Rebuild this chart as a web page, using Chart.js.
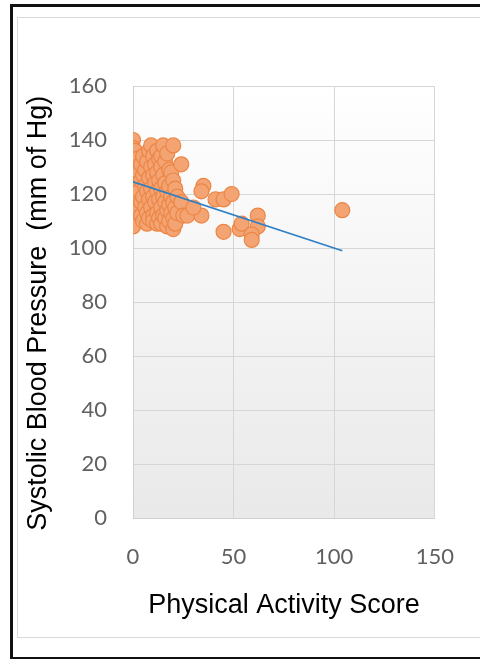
<!DOCTYPE html>
<html>
<head>
<meta charset="utf-8">
<script src="https://cdn.jsdelivr.net/npm/chart.js@4.4.1/dist/chart.umd.min.js"></script>
<style>
  html, body { margin: 0; padding: 0; background: #fff; }
  #wrap { position: relative; width: 480px; height: 659px; overflow: hidden; }
  #outer { position: absolute; left: 10px; top: 4px; width: 480px; height: 650px; border: 3px solid #111; border-right: none; }
  #inner { position: absolute; left: 17px; top: 17px; width: 470px; height: 619px; border: 1px solid #d9d9d9; border-right: none; }
  #chart { position: absolute; left: 0; top: 0; }
</style>
</head>
<body>
<div id="wrap">
  <div id="outer"></div>
  <div id="inner"></div>
  <canvas id="chart" width="480" height="659"></canvas>
</div>
<script>
  // physical activity score vs systolic pressure
  const activity = [
    0,0,0,0,0,0,0,0,0,0,
    1,1,1,1,1, 2,2,2, 3,3,3, 4,4,4,4, 5,5,5,5, 6,6,6,
    7,7,7,7, 8,8,8,8, 9,9,9,9, 10,10,10,10,10, 11,11,11,
    12,12,12,12,12, 13,13,13,13, 14,14,14,14,14, 15,15,15,15,
    16,16,16,16, 17,17,17,17, 18,18,18,18, 19,19,19,
    20,20,20,20,20, 21,21,21, 22,22, 24,24, 25,
    27,34,30, 35,34,41,45,49,45,53,54,62,62,59,59, 104
  ];
  const systolic = [
    140,137,134,131,128,125,122,119,116,108,
    136,130,126,120,117, 133,124,118, 128,121,114, 131,125,117,112, 134,127,119,110, 129,123,115,
    132,121,113,109, 136,126,118,111, 138,130,122,115, 134,127,119,112,110, 131,124,117,
    136,128,121,113,109, 133,125,118,111, 134,130,122,115,109, 138,127,119,112,
    132,124,117,111, 135,121,114,108, 129,123,116,110, 128,119,113,
    138,125,117,111,107, 122,115,109, 119,113, 131,117, 112,
    112,112,115, 123,121,118,118,120,106,107,109,112,108,105,103, 114
  ];
  // linear trendline ends
  const trendX = [0, 104];
  const trendY = [124.5, 99];

  const xTicks = [0, 50, 100, 150];
  const yTicks = [0, 20, 40, 60, 80, 100, 120, 140, 160];

  const points = activity.map((x, i) => ({ x, y: systolic[i] }));
  const trend = trendX.map((x, i) => ({ x, y: trendY[i] }));

  // gradient plot background like the spreadsheet chart
  const plotBg = {
    id: 'plotBg',
    beforeDraw(chart) {
      const { ctx, chartArea: a } = chart;
      const g = ctx.createLinearGradient(0, a.top, 0, a.bottom);
      g.addColorStop(0, '#ffffff');
      g.addColorStop(1, '#e9e9e9');
      ctx.save();
      ctx.fillStyle = g;
      ctx.fillRect(a.left, a.top, a.right - a.left, a.bottom - a.top);
      ctx.restore();
    }
  };

  const tickFont = { family: 'Lato, "Open Sans", sans-serif', size: 22 };
  const titleFont = { family: '"Liberation Sans", Arial, sans-serif', size: 27 };

  new Chart(document.getElementById('chart'), {
    type: 'scatter',
    data: {
      datasets: [
        {
          type: 'line',
          data: trend,
          borderColor: '#2e7fc4',
          borderWidth: 1.6,
          pointRadius: 0,
          fill: false,
          order: 0
        },
        {
          data: points,
          backgroundColor: '#f4a373',
          borderColor: '#ec8645',
          borderWidth: 1.2,
          pointRadius: 7.5,
          order: 1
        }
      ]
    },
    plugins: [plotBg],
    options: {
      responsive: false,
      animation: false,
      layout: { padding: { left: 20, top: 86, right: 42, bottom: 33 } },
      plugins: { legend: { display: false }, tooltip: { enabled: false } },
      scales: {
        x: {
          type: 'linear',
          min: 0, max: 150,
          afterBuildTicks: (s) => { s.ticks = xTicks.map(v => ({ value: v })); },
          afterFit: (s) => { s.height = 108; },
          ticks: { font: tickFont, color: '#606060', padding: 26, maxRotation: 0 },
          grid: { color: '#d6d6d6', drawTicks: false },
          border: { color: '#d0d0d0' },
          title: { display: true, text: 'Physical Activity Score', font: titleFont, color: '#000', padding: { top: 4, bottom: 4 } }
        },
        y: {
          type: 'linear',
          min: 0, max: 160,
          afterBuildTicks: (s) => { s.ticks = yTicks.map(v => ({ value: v })); },
          afterFit: (s) => { s.width = 113; },
          ticks: { font: tickFont, color: '#606060', padding: 26 },
          grid: { color: '#d6d6d6', drawTicks: false },
          border: { color: '#d0d0d0' },
          title: { display: true, text: 'Systolic Blood Pressure  (mm of Hg)   ', font: titleFont, color: '#000', padding: { top: 2, bottom: 2 } }
        }
      }
    }
  });
</script>
</body>
</html>
